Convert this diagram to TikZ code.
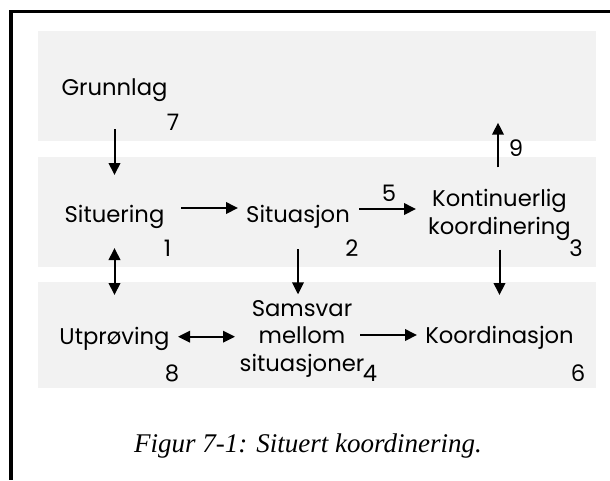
\documentclass[tikz,border=0pt]{standalone}
\usepackage{fontspec}
\usepackage{tikz}
\usetikzlibrary{arrows.meta, calc}
\newfontfamily\geofont{Poppins}
\newfontfamily\capfont{Liberation Serif}
\definecolor{bandgray}{HTML}{F2F2F2}

\begin{document}
\begin{tikzpicture}[x=1pt, y=-1pt, font=\geofont\fontsize{22.7}{27.3}\selectfont,
            lbl/.style={inner sep=0pt, anchor=base, align=center},
            num/.style={inner sep=0pt, anchor=base},
            arr/.style={line width=2pt, -{Triangle[length=12pt, width=11.5pt]}},
            darr/.style={line width=2pt, {Triangle[length=12pt, width=11.5pt]}-{Triangle[length=12pt, width=11.5pt]}}]
            \useasboundingbox (0,0) rectangle (610,480);
            \fill[bandgray] (37.7,31) rectangle (595.7,140.7);
            \fill[bandgray] (37.7,157) rectangle (595.7,266.7);
            \fill[bandgray] (37.7,281.7) rectangle (595.7,388.3);
            \draw[line width=3.3pt] (610,11.7) -- (11,11.7) -- (11,480);
            \node[lbl] (grunnlag) at (114.5,95) {Grunnlag};
            \node[lbl] (situering) at (114.5,222.7) {Situering};
            \node[lbl] (situasjon) at (298,222.7) {Situasjon};
            \node[lbl, anchor=center] (kont) at (499.5,214.8) {Kontinuerlig\\koordinering};
            \node[lbl] (utproving) at (114.5,344) {Utprøving};
            \node[lbl, anchor=center] (samsvar) at (302,338.8) {Samsvar\\mellom\\situasjoner};
            \node[lbl] (koord) at (499.5,343) {Koordinasjon};
            \coordinate (tip9) at (498,122.7);
            \node[num] (n7) at (173,130) {7};
            \node[num] (n9) at (516,156.7) {9};
            \node[num] (n1) at (167.5,256.7) {1};
            \node[num] (n2) at (352,256.7) {2};
            \node[num] (n3) at (576,256.7) {3};
            \node[num] (n5) at (389,201.7) {5};
            \node[num] (n8) at (172,381) {8};
            \node[num] (n4) at (370,381) {4};
            \node[num] (n6) at (578,381) {6};
            \draw[arr, shorten <=34pt, shorten >=47.7pt] (grunnlag.base) -- (situering.base);
            \draw[arr, shorten <=66.5pt, shorten >=60pt] ([yshift=14.7pt]situering.base) -- ([yshift=14.7pt]situasjon.base);
            \draw[arr, shorten <=61.3pt, shorten >=83.5pt] ([yshift=13.7pt]situasjon.base) -- ([yshift=13.7pt]situasjon.base -| kont.center);
            \draw[arr, shorten <=22pt] (kont.north -| tip9) -- (tip9);
            \draw[darr, shorten <=25.3pt, shorten >=49pt] (situering.base) -- (utproving.base);
            \draw[arr, shorten <=26.3pt, shorten >=6pt] (situasjon.base) -- (situasjon.base |- samsvar.north);
            \draw[arr, shorten <=9.3pt, shorten >=48pt] (kont.south) -- (koord.base);
            \draw[darr, shorten <=63.5pt, shorten >=67pt] ([yshift=7.3pt]utproving.base) -- ([yshift=7.3pt]utproving.base -| samsvar.center);
            \draw[arr, shorten <=58pt, shorten >=82.5pt] ([yshift=8pt]koord.base -| samsvar.center) -- ([yshift=8pt]koord.base);
            \node[font=\capfont\itshape\fontsize{27}{32}\selectfont, anchor=base] (caption) at (308,452) {Figur 7-1: Situert koordinering.};
        \end{tikzpicture}
\end{document}
